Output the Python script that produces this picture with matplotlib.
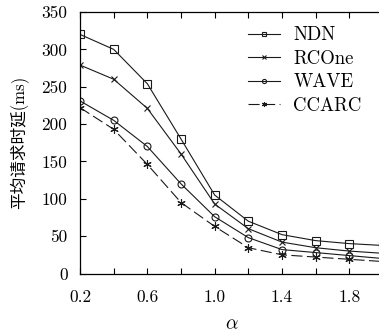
import matplotlib
matplotlib.use("Agg")
import matplotlib.pyplot as plt

plt.rcParams["font.family"] = ["cmr10", "Noto Sans CJK SC", "DejaVu Sans"]
plt.rcParams["mathtext.fontset"] = "cm"
plt.rcParams["axes.unicode_minus"] = False

alpha = [0.2, 0.4, 0.6, 0.8, 1.0, 1.2, 1.4, 1.6, 1.8, 2.0]
ndn = [320, 300, 254, 180, 105, 70, 52, 44, 40, 37.5]
rcone = [279, 260, 221, 160, 93, 60, 42, 34.5, 30, 27]
wave = [231, 205, 170, 120, 76, 48, 32, 28, 24, 20]
ccarc = [222, 193, 146, 95, 63, 34.5, 25, 22, 19, 16]

xticks = [0.2, 0.6, 1.0, 1.4, 1.8]
yticks = [0, 50, 100, 150, 200, 250, 300, 350]

W, H = 379, 333
fig = plt.figure(figsize=(W / 100, H / 100), dpi=100)
ax = fig.add_axes((80 / W, 1 - 273.5 / H, 303 / W, 261.5 / H))

lc = "#1a1a1a"
lw = 0.8
ax.plot(alpha, ndn, color=lc, lw=lw, marker="s", ms=6, mfc="none", mew=0.8, label="NDN")
ax.plot(alpha, rcone, color=lc, lw=lw, marker="x", ms=5, mew=0.8, label="RCOne")
ax.plot(alpha, wave, color=lc, lw=lw, marker="o", ms=5, mfc="none", mew=0.8, label="WAVE")
ax.plot(alpha, ccarc, color=lc, lw=lw, ls=(0, (10, 4)), marker=(6, 2, 0), ms=6, mew=0.8,
        label="CCARC")

ax.set_xlim(0.2, 2.0)
ax.set_ylim(0, 350)
ax.set_xticks(alpha[:-1])
ax.set_xticklabels([f"{v:.1f}" if v in xticks else "" for v in alpha[:-1]])
ax.set_yticks(yticks)
ax.tick_params(direction="in", length=4, width=0.8, labelsize=12.5, top=True, right=False)
ax.tick_params(axis="x", pad=12)
ax.tick_params(axis="y", pad=9)
for s in ax.spines.values():
    s.set_linewidth(0.9)

ax.set_xlabel(r"$\alpha$", fontsize=14, labelpad=7)
ax.set_ylabel("平均请求时延(ms)", fontsize=12, labelpad=9)

ax.legend(loc="upper left", bbox_to_anchor=(0.555, 0.945), frameon=False, fontsize=13.5,
          handlelength=1.7, handletextpad=0.7, labelspacing=0.3, borderpad=0,
          borderaxespad=0, markerscale=0.6)

fig.savefig("out.png", dpi=100)
